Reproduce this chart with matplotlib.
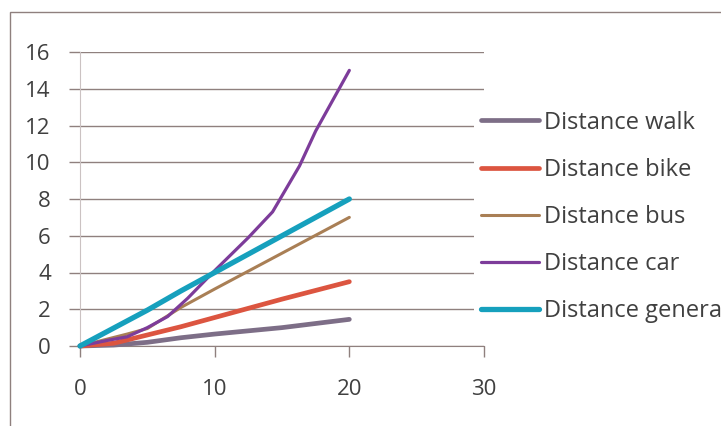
import matplotlib
matplotlib.use("Agg")
import matplotlib.pyplot as plt
from matplotlib.patches import Rectangle

# Data
walk_x = [0, 2.5, 5, 7.5, 10, 15, 20]
walk_y = [0, 0.05, 0.2, 0.45, 0.65, 1.0, 1.45]
bike_x = [0, 2.5, 5, 7.5, 10, 15, 20]
bike_y = [0, 0.15, 0.6, 1.05, 1.55, 2.55, 3.5]
bus_x = [0, 3.5, 5, 7.5, 10, 15, 20]
bus_y = [0, 0.65, 0.95, 2.1, 3.1, 5.05, 7.0]
car_x = [0, 2, 3.5, 5, 6.5, 8, 10, 12.5, 14.3, 16.3, 17.5, 20]
car_y = [0, 0.3, 0.5, 1.0, 1.6, 2.6, 4.1, 5.9, 7.3, 9.8, 11.7, 15.0]
gen_x = [0, 5, 7.5, 10, 15, 20]
gen_y = [0, 1.95, 3.0, 4.0, 6.0, 8.0]

labels = ["Distance walk", "Distance bike", "Distance bus", "Distance car", "Distance general"]
colors = ["#7d6e87", "#dc5540", "#a97f55", "#7d3c9a", "#16a0bd"]
widths = [3.4, 3.4, 2.2, 2.3, 3.8]
xticks = [0, 10, 20, 30]
yticks = [0, 2, 4, 6, 8, 10, 12, 14, 16]

plt.rcParams['font.family'] = ['Open Sans', 'DejaVu Sans']
W, H = 721, 426
fig = plt.figure(figsize=(W / 100, H / 100), dpi=100)

grid_c = "#8f807e"
text_c = "#404040"

# outer chart-area frame
fig.patches.append(Rectangle((10 / W, -0.1), 1.2, (H - 12) / H + 0.1,
                             transform=fig.transFigure, fill=False,
                             edgecolor=grid_c, linewidth=1.0))

ax = fig.add_axes([80 / W, (H - 346) / H, 404 / W, 294 / H])
series = [(walk_x, walk_y), (bike_x, bike_y), (bus_x, bus_y), (car_x, car_y), (gen_x, gen_y)]
for (xs, ys), lab, c, lw in zip(series, labels, colors, widths):
    ax.plot(xs, ys, color=c, lw=lw, label=lab, solid_capstyle='round',
            solid_joinstyle='round', clip_on=False, zorder=3)

ax.set_xlim(0, 30)
ax.set_ylim(0, 16)
ax.set_xticks(xticks)
ax.set_yticks(yticks)
ax.yaxis.grid(True, color=grid_c, lw=1.0)
ax.set_axisbelow(True)
for s in ["top", "right"]:
    ax.spines[s].set_visible(False)
ax.spines["left"].set_color("#cbc2c2")
ax.spines["bottom"].set_color(grid_c)
ax.tick_params(axis='x', direction='out', length=8, color=grid_c, width=1,
               labelsize=16, labelcolor=text_c, pad=16)
ax.tick_params(axis='y', direction='out', length=8, color=grid_c, width=1,
               labelsize=16, labelcolor=text_c, pad=13)

leg = ax.legend(loc='center left', bbox_to_anchor=(474 / W, (H - 217) / H),
                bbox_transform=fig.transFigure, frameon=True, fancybox=False,
                edgecolor='none', facecolor='white', framealpha=1,
                fontsize=17, handlelength=2.45, handletextpad=0.2,
                labelspacing=0.98, borderpad=0.3, borderaxespad=0)
for t in leg.get_texts():
    t.set_color(text_c)
for l in leg.get_lines():
    l.set_solid_capstyle('round')

fig.savefig("out.png", dpi=100)
